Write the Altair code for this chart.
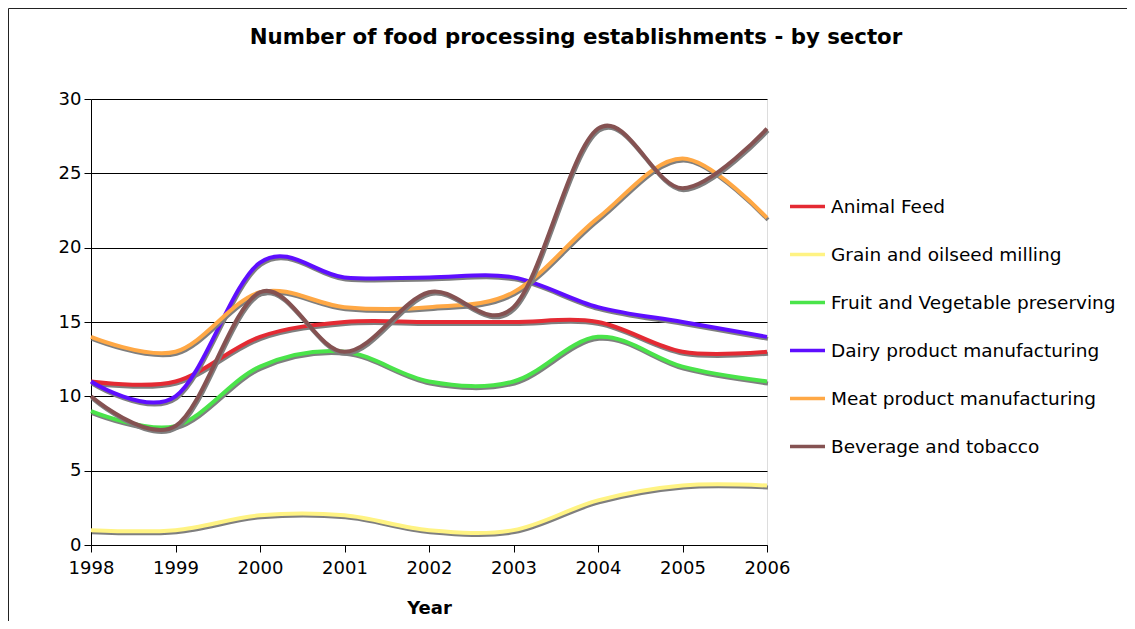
import altair as alt
import pandas as pd

years = [1998, 1999, 2000, 2001, 2002, 2003, 2004, 2005, 2006]
series_names = [
    "Animal Feed",
    "Grain and oilseed milling",
    "Fruit and Vegetable preserving",
    "Dairy product manufacturing",
    "Meat product manufacturing",
    "Beverage and tobacco",
]
animal_feed = [11, 11, 14, 15, 15, 15, 15, 13, 13]
grain = [1, 1, 2, 2, 1, 1, 3, 4, 4]
fruit_veg = [9, 8, 12, 13, 11, 11, 14, 12, 11]
dairy = [11, 10, 19, 18, 18, 18, 16, 15, 14]
meat = [14, 13, 17, 16, 16, 17, 22, 26, 22]
beverage = [10, 8, 17, 13, 17, 16, 28, 24, 28]
colors = ["#E42A33", "#FFF383", "#4AE44A", "#5E0EFF", "#FFA845", "#855252"]
y_ticks = [0, 5, 10, 15, 20, 25, 30]
chart_title = "Number of food processing establishments - by sector"

all_values = [animal_feed, grain, fruit_veg, dairy, meat, beverage]
rows = []
for name, vals in zip(series_names, all_values):
    for yr, v in zip(years, vals):
        rows.append({"Year": yr, "Value": v, "Series": name})
df = pd.DataFrame(rows)

FONT = "DejaVu Sans"

x_enc = alt.X(
    "Year:Q",
    scale=alt.Scale(domain=[1998, 2006], nice=False),
    axis=alt.Axis(
        values=years, format="d", title="Year", grid=False,
        tickSize=7, tickColor="black", domainColor="black",
        labelFontSize=18, labelColor="black", labelPadding=7,
        labelFlush=False,
        titleFontSize=18, titleFontWeight="bold", titleColor="black",
        titlePadding=22, labelFont=FONT, titleFont=FONT,
    ),
)
y_enc = alt.Y(
    "Value:Q",
    scale=alt.Scale(domain=[0, 30], nice=False),
    axis=alt.Axis(
        values=y_ticks, title=None, grid=True, gridColor="black",
        gridOpacity=1, gridWidth=1, tickSize=7, tickColor="black",
        domainColor="black", labelFontSize=18, labelColor="black",
        labelPadding=3, labelFont=FONT, labelFlush=False,
    ),
)
color_enc = alt.Color(
    "Series:N",
    scale=alt.Scale(domain=series_names, range=colors),
    legend=alt.Legend(
        title=None, orient="none", legendX=697, legendY=88,
        symbolType="stroke", symbolSize=1225, symbolStrokeWidth=3.5,
        labelFontSize=18.5, labelFont=FONT, labelColor="black",
        rowPadding=19, labelOffset=4, labelLimit=0,
    ),
)

single = alt.Data(values=[{}])
top_border = alt.Chart(single).mark_rule(color="#222222", strokeWidth=1).encode(
    x=alt.value(-82.5), x2=alt.value(1100), y=alt.value(-90.5)
)
left_border = alt.Chart(single).mark_rule(color="#222222", strokeWidth=1).encode(
    x=alt.value(-82.5), y=alt.value(-90.5), y2=alt.value(700)
)
title_mark = alt.Chart(single).mark_text(
    text=chart_title, font=FONT, fontSize=21.3, fontWeight="bold",
    color="black", align="center", baseline="middle",
).encode(x=alt.value(485), y=alt.value(-61))

layers = [top_border, left_border, title_mark]
for name in series_names:
    base = alt.Chart(df).transform_filter(alt.datum.Series == name)
    shadow = base.mark_line(
        interpolate="cardinal", color="#7F7F7F", strokeWidth=4,
        xOffset=1, yOffset=2,
    ).encode(x=x_enc, y=y_enc)
    line = base.mark_line(interpolate="cardinal", strokeWidth=4).encode(
        x=x_enc, y=y_enc, color=color_enc
    )
    layers += [shadow, line]

chart = alt.layer(*layers).properties(
    width=676,
    height=446,
    autosize=alt.AutoSizeParams(type="none"),
    padding={"left": 83, "top": 91, "right": 360, "bottom": 76},
).configure_view(
    fill="#CDCDCD", stroke="#808080", strokeWidth=1
).configure(background="white")

chart.save("out.html", embed_options={"renderer": "svg", "actions": False})
